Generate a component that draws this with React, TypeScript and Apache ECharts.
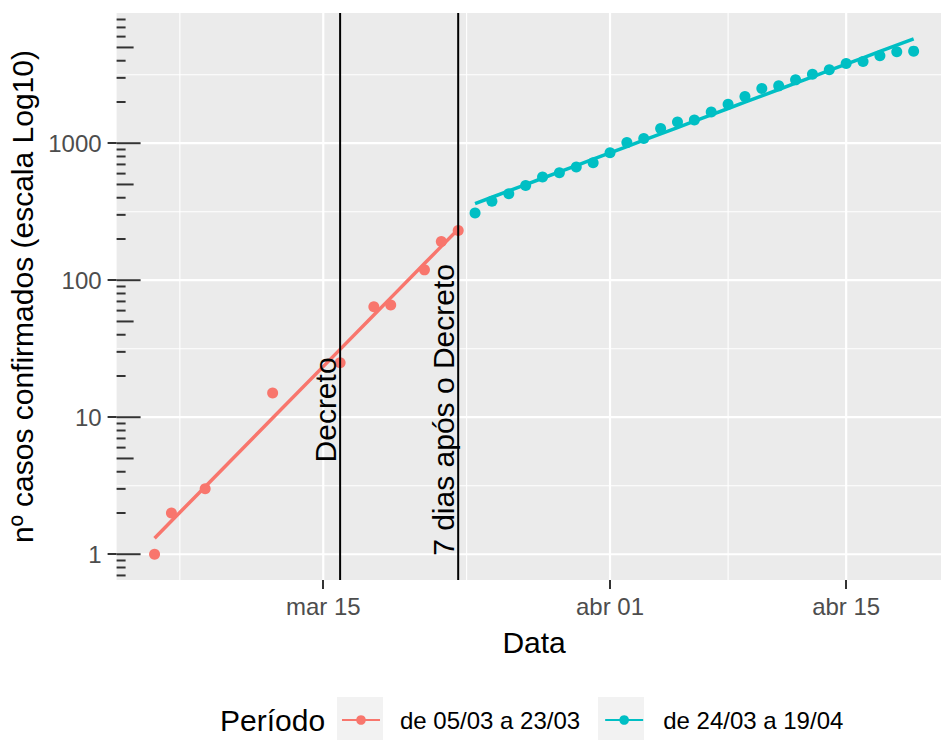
import React, { useEffect, useRef } from 'react';
import * as echarts from 'echarts';

const FONT = '"Liberation Sans", Arial, sans-serif';
const DAY = 86400000;

// ---- data ----
const periodNames = ['de 05/03 a 23/03', 'de 24/03 a 19/04'];
const periodColors = ['#F8766D', '#00BFC4'];

const redDates = [
  '2020-03-05', '2020-03-06', '2020-03-08', '2020-03-12', '2020-03-16',
  '2020-03-18', '2020-03-19', '2020-03-21', '2020-03-22', '2020-03-23',
];
const redValues = [1, 2, 3, 15, 25, 64, 66, 119, 192, 231];

const cyanDates = [
  '2020-03-24', '2020-03-25', '2020-03-26', '2020-03-27', '2020-03-28',
  '2020-03-29', '2020-03-30', '2020-03-31', '2020-04-01', '2020-04-02',
  '2020-04-03', '2020-04-04', '2020-04-05', '2020-04-06', '2020-04-07',
  '2020-04-08', '2020-04-09', '2020-04-10', '2020-04-11', '2020-04-12',
  '2020-04-13', '2020-04-14', '2020-04-15', '2020-04-16', '2020-04-17',
  '2020-04-18', '2020-04-19',
];
const cyanValues = [
  309, 377, 428, 492, 566, 609, 670, 721, 853, 1010,
  1081, 1279, 1429, 1475, 1691, 1927, 2193, 2507, 2622, 2900,
  3191, 3434, 3822, 3953, 4345, 4648, 4700,
];

const xTickDates = ['2020-03-15', '2020-04-01', '2020-04-15'];
const xTickLabels = ['mar 15', 'abr 01', 'abr 15'];
const xMinorGridDates = ['2020-03-06T12', '2020-03-23T12', '2020-04-08', '2020-04-22'];

const yTickValues = [1, 10, 100, 1000];
const yTickLabels = ['1', '10', '100', '1000'];
const yMinorGridValues = [3.1623, 31.623, 316.23, 3162.3];
const logTickDecades = [0.1, 1, 10, 100, 1000];
const logTickMantissas = [1, 2, 3, 4, 5, 6, 7, 8, 9];

const eventDates = ['2020-03-16', '2020-03-23'];
const eventLabels = ['Decreto', '7 dias após o Decreto'];
const eventLabelY = 11.3;

const xAxisTitle = 'Data';
const yAxisTitle = 'nº casos confirmados (escala Log10)';
const legendTitle = 'Período';

// ---- helpers ----
function toTime(s: string): number {
  const y = +s.slice(0, 4);
  const m = +s.slice(5, 7) - 1;
  const d = +s.slice(8, 10);
  const h = s.length > 10 ? +s.slice(11, 13) : 0;
  return Date.UTC(y, m, d, h);
}

function lmFit(dates: string[], values: number[]): [number, number][] {
  const xs = dates.map((d) => toTime(d) / DAY);
  const ys = values.map((v) => Math.log10(v));
  const n = xs.length;
  const mx = xs.reduce((a, b) => a + b, 0) / n;
  const my = ys.reduce((a, b) => a + b, 0) / n;
  let sxx = 0;
  let sxy = 0;
  for (let i = 0; i < n; i++) {
    sxx += (xs[i] - mx) ** 2;
    sxy += (xs[i] - mx) * (ys[i] - my);
  }
  const b = sxy / sxx;
  const a = my - b * mx;
  return dates.map((d) => [toTime(d), Math.pow(10, a + (b * toTime(d)) / DAY)]);
}

export default function App() {
  const ref = useRef<HTMLDivElement>(null);

  useEffect(() => {
    document.body.style.margin = '0';
    if (!ref.current) return;
    const chart = echarts.init(ref.current, undefined, { renderer: 'svg' });

    const redPts = redDates.map((d, i) => [toTime(d), redValues[i]]);
    const cyanPts = cyanDates.map((d, i) => [toTime(d), cyanValues[i]]);
    const redFit = lmFit(redDates, redValues);
    const cyanFit = lmFit(cyanDates, cyanValues);

    const allTimes = [...redPts, ...cyanPts].map((p) => p[0]);
    const tMin = Math.min(...allTimes);
    const tMax = Math.max(...allTimes);
    const tSpan = tMax - tMin;
    const xMin = tMin - 0.05 * tSpan;
    const xMax = tMax + 0.05 * tSpan;

    const allLogs = [...redPts, ...cyanPts, ...redFit, ...cyanFit].map((p) => Math.log10(p[1]));
    const lMin = Math.min(...allLogs);
    const lMax = Math.max(...allLogs);
    const lSpan = lMax - lMin;
    const yMin = Math.pow(10, lMin - 0.05 * lSpan);
    const yMax = Math.pow(10, lMax + 0.05 * lSpan);

    const xTickTimes = xTickDates.map(toTime);

    const hGridData = [
      ...yTickValues.map((v) => [xMin, v, 1]),
      ...yMinorGridValues.map((v) => [xMin, v, 0]),
    ];
    const vGridData = [
      ...xTickTimes.map((t) => [t, 1, 1]),
      ...xMinorGridDates.map((d) => [toTime(d), 1, 0]),
    ];
    const logTickData: number[][] = [];
    logTickDecades.forEach((dec) =>
      logTickMantissas.forEach((m) => {
        const v = dec * m;
        if (v >= yMin && v <= yMax) logTickData.push([xMin, v, m]);
      })
    );
    const eventData = eventDates.map((d, i) => [toTime(d), eventLabelY, i]);

    const option: any = {
      animation: false,
      backgroundColor: '#FFFFFF',
      textStyle: { fontFamily: FONT },
      grid: {
        left: 116.6,
        width: 835,
        top: 13,
        height: 567,
        outerBoundsMode: 'none',
        containLabel: false,
        show: true,
        backgroundColor: '#EBEBEB',
        borderWidth: 0,
      },
      xAxis: {
        type: 'value',
        min: xMin,
        max: xMax,
        axisLine: { show: false },
        splitLine: { show: false },
        axisTick: {
          show: true,
          customValues: xTickTimes,
          length: 9,
          lineStyle: { color: '#333333', width: 2 },
        },
        axisLabel: {
          customValues: xTickTimes,
          formatter: (v: number) => {
            const i = xTickTimes.findIndex((t) => Math.abs(t - v) < 1000);
            return i >= 0 ? xTickLabels[i] : '';
          },
          margin: 14,
          fontSize: 24,
          color: '#4D4D4D',
          fontFamily: FONT,
        },
        name: xAxisTitle,
        nameLocation: 'middle',
        nameGap: 47,
        nameTextStyle: { fontSize: 30, color: '#000000', fontFamily: FONT },
      },
      yAxis: {
        type: 'log',
        logBase: 10,
        min: yMin,
        max: yMax,
        axisLine: { show: false },
        splitLine: { show: false },
        minorTick: { show: false },
        axisTick: {
          show: true,
          customValues: yTickValues,
          length: 9,
          lineStyle: { color: '#333333', width: 2 },
        },
        axisLabel: {
          customValues: yTickValues,
          formatter: (v: number) => {
            const i = yTickValues.findIndex((t) => Math.abs(Math.log10(t) - Math.log10(v)) < 1e-6);
            return i >= 0 ? yTickLabels[i] : '';
          },
          margin: 15,
          fontSize: 24,
          color: '#4D4D4D',
          fontFamily: FONT,
        },
        name: yAxisTitle,
        nameLocation: 'middle',
        nameRotate: 90,
        nameGap: 70,
        nameTextStyle: { fontSize: 30, color: '#000000', fontFamily: FONT },
      },
      legend: {
        data: periodNames,
        left: 341,
        top: 708,
        padding: 0,
        itemWidth: 38,
        itemHeight: 12,
        itemGap: 24,
        selectedMode: false,
        textStyle: { fontFamily: FONT, fontSize: 24, color: '#000000', padding: [0, 0, 0, 15] },
      },
      graphic: [
        { type: 'rect', left: 337, top: 697, shape: { width: 46, height: 46 }, style: { fill: '#F2F2F2' }, z: 0 },
        { type: 'rect', left: 598, top: 697, shape: { width: 46, height: 46 }, style: { fill: '#F2F2F2' }, z: 0 },
        {
          type: 'text',
          left: 220,
          top: 705,
          style: { text: legendTitle, font: `30px ${FONT}`, fill: '#000000' },
        },
      ],
      series: [
        {
          type: 'custom',
          name: 'hgrid',
          silent: true,
          clip: true,
          z: 0,
          data: hGridData,
          encode: { x: 0, y: 1 },
          renderItem: (params: any, api: any) => {
            const cs = params.coordSys;
            const y = api.coord([api.value(0), api.value(1)])[1];
            const major = api.value(2) === 1;
            return {
              type: 'line',
              shape: { x1: cs.x, y1: y, x2: cs.x + cs.width, y2: y },
              style: { stroke: '#FFFFFF', lineWidth: major ? 2.2 : 1.1 },
            };
          },
        },
        {
          type: 'custom',
          name: 'vgrid',
          silent: true,
          clip: true,
          z: 0,
          data: vGridData,
          encode: { x: 0, y: 1 },
          renderItem: (params: any, api: any) => {
            const cs = params.coordSys;
            const x = api.coord([api.value(0), api.value(1)])[0];
            const major = api.value(2) === 1;
            return {
              type: 'line',
              shape: { x1: x, y1: cs.y, x2: x, y2: cs.y + cs.height },
              style: { stroke: '#FFFFFF', lineWidth: major ? 2.2 : 1.1 },
            };
          },
        },
        {
          type: 'custom',
          name: 'logticks',
          silent: true,
          clip: true,
          z: 1,
          data: logTickData,
          encode: { x: 0, y: 1 },
          renderItem: (params: any, api: any) => {
            const cs = params.coordSys;
            const y = api.coord([api.value(0), api.value(1)])[1];
            const m = api.value(2);
            const len = m === 1 ? 24 : m === 5 ? 17 : 9;
            return {
              type: 'line',
              shape: { x1: cs.x, y1: y, x2: cs.x + len, y2: y },
              style: { stroke: '#333333', lineWidth: 2 },
            };
          },
        },
        {
          type: 'line',
          name: periodNames[0],
          data: redFit,
          symbol: 'circle',
          symbolSize: 10,
          showSymbol: false,
          silent: true,
          z: 3,
          color: periodColors[0],
          lineStyle: { color: periodColors[0], width: 3.5 },
          itemStyle: { color: periodColors[0] },
        },
        {
          type: 'scatter',
          name: periodNames[0],
          data: redPts,
          symbol: 'circle',
          symbolSize: 11,
          silent: true,
          z: 3,
          itemStyle: { color: periodColors[0], opacity: 1 },
        },
        {
          type: 'line',
          name: periodNames[1],
          data: cyanFit,
          symbol: 'circle',
          symbolSize: 10,
          showSymbol: false,
          silent: true,
          z: 3,
          color: periodColors[1],
          lineStyle: { color: periodColors[1], width: 3.5 },
          itemStyle: { color: periodColors[1] },
        },
        {
          type: 'scatter',
          name: periodNames[1],
          data: cyanPts,
          symbol: 'circle',
          symbolSize: 11,
          silent: true,
          z: 3,
          itemStyle: { color: periodColors[1], opacity: 1 },
        },
        {
          type: 'custom',
          name: 'events',
          silent: true,
          clip: false,
          z: 5,
          data: eventData,
          encode: { x: 0, y: 1 },
          renderItem: (params: any, api: any) => {
            const cs = params.coordSys;
            const p = api.coord([api.value(0), api.value(1)]);
            return {
              type: 'group',
              children: [
                {
                  type: 'line',
                  shape: { x1: p[0], y1: cs.y, x2: p[0], y2: cs.y + cs.height },
                  style: { stroke: '#000000', lineWidth: 2 },
                },
                {
                  type: 'text',
                  x: p[0],
                  y: p[1],
                  rotation: Math.PI / 2,
                  style: {
                    text: eventLabels[api.value(2)],
                    font: `30px ${FONT}`,
                    fill: '#000000',
                    align: 'center',
                    verticalAlign: 'bottom',
                  },
                },
              ],
            };
          },
        },
      ],
    };

    chart.setOption(option);
    return () => chart.dispose();
  }, []);

  return <div ref={ref} style={{ width: 941, height: 740 }} />;
}
